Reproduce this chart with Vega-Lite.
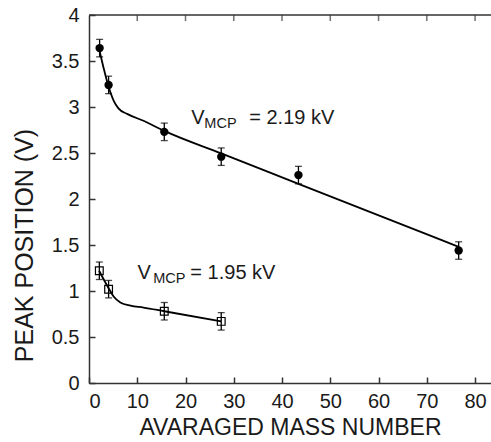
{
  "$schema": "https://vega.github.io/schema/vega-lite/v6.json",
  "autosize": "none",
  "padding": {"left": 89, "top": 15, "right": 0, "bottom": 59},
  "width": 402,
  "height": 368,
  "background": "white",
  "config": {
    "view": {"stroke": null},
    "font": "Liberation Sans",
    "axis": {
      "grid": false,
      "domainColor": "#333333",
      "domainWidth": 1.5,
      "tickColor": "#333333",
      "tickWidth": 1.5,
      "tickSize": -6,
      "labelFont": "Liberation Sans",
      "labelFontSize": 20,
      "labelColor": "#1a1a1a",
      "titleFont": "Liberation Sans",
      "titleFontWeight": "normal",
      "titleColor": "#1a1a1a"
    }
  },
  "datasets": {
    "pts": [
      {"series": "2.19", "mass": 2.2, "peak": 3.64, "lo": 3.545, "hi": 3.735},
      {"series": "2.19", "mass": 4.06, "peak": 3.24, "lo": 3.145, "hi": 3.335},
      {"series": "2.19", "mass": 15.6, "peak": 2.73, "lo": 2.635, "hi": 2.825},
      {"series": "2.19", "mass": 27.4, "peak": 2.46, "lo": 2.365, "hi": 2.555},
      {"series": "2.19", "mass": 43.4, "peak": 2.26, "lo": 2.165, "hi": 2.355},
      {"series": "2.19", "mass": 76.6, "peak": 1.44, "lo": 1.345, "hi": 1.535},
      {"series": "1.95", "mass": 2.14, "peak": 1.22, "lo": 1.125, "hi": 1.315},
      {"series": "1.95", "mass": 4.06, "peak": 1.02, "lo": 0.925, "hi": 1.115},
      {"series": "1.95", "mass": 15.6, "peak": 0.78, "lo": 0.685, "hi": 0.875},
      {"series": "1.95", "mass": 27.4, "peak": 0.67, "lo": 0.575, "hi": 0.765}
    ],
    "fit": [
      {"series": "2.19", "mass": 2.1, "peak": 3.63},
      {"series": "2.19", "mass": 3.0, "peak": 3.43},
      {"series": "2.19", "mass": 4.0, "peak": 3.23},
      {"series": "2.19", "mass": 5.1, "peak": 3.07},
      {"series": "2.19", "mass": 6.1, "peak": 2.985},
      {"series": "2.19", "mass": 7.9, "peak": 2.925},
      {"series": "2.19", "mass": 11.3, "peak": 2.85},
      {"series": "2.19", "mass": 15.6, "peak": 2.74},
      {"series": "2.19", "mass": 27.4, "peak": 2.495},
      {"series": "2.19", "mass": 43.4, "peak": 2.165},
      {"series": "2.19", "mass": 76.6, "peak": 1.48},
      {"series": "1.95", "mass": 2.1, "peak": 1.22},
      {"series": "1.95", "mass": 3.0, "peak": 1.13},
      {"series": "1.95", "mass": 4.06, "peak": 1.03},
      {"series": "1.95", "mass": 5.1, "peak": 0.94},
      {"series": "1.95", "mass": 6.5, "peak": 0.875},
      {"series": "1.95", "mass": 8.6, "peak": 0.84},
      {"series": "1.95", "mass": 11.3, "peak": 0.82},
      {"series": "1.95", "mass": 15.6, "peak": 0.78},
      {"series": "1.95", "mass": 27.4, "peak": 0.67}
    ],
    "labels": [
      {"part": "V", "mass": 21.2, "peak": 2.815, "size": "big"},
      {"part": "MCP", "mass": 23.9, "peak": 2.77, "size": "small"},
      {"part": "= 2.19 kV", "mass": 33.2, "peak": 2.815, "size": "big"},
      {"part": "V", "mass": 10.07, "peak": 1.13, "size": "big"},
      {"part": "MCP", "mass": 13.3, "peak": 1.085, "size": "small"},
      {"part": "= 1.95 kV", "mass": 21.0, "peak": 1.13, "size": "big"}
    ],
    "frame": [
      {"mass": 0, "peak": 4},
      {"mass": 83.3, "peak": 4}
    ],
    "topticks": [
      {"mass": 10, "peak": 4}, {"mass": 20, "peak": 4}, {"mass": 30, "peak": 4}, {"mass": 40, "peak": 4},
      {"mass": 50, "peak": 4}, {"mass": 60, "peak": 4}, {"mass": 70, "peak": 4}, {"mass": 80, "peak": 4}
    ]
  },
  "layer": [
    {
      "data": {"name": "fit"},
      "mark": {"type": "line", "interpolate": "monotone", "color": "black", "strokeWidth": 1.8},
      "encoding": {
        "x": {"field": "mass", "type": "quantitative",
              "scale": {"domain": [0, 83.3], "nice": false},
              "axis": {"orient": "bottom", "values": [0,10,20,30,40,50,60,70,80], "title": "AVARAGED MASS NUMBER", "titleFontSize": 23, "labelPadding": 14, "titlePadding": 5}},
        "y": {"field": "peak", "type": "quantitative",
              "scale": {"domain": [0, 4], "nice": false},
              "axis": {"values": [0,0.5,1,1.5,2,2.5,3,3.5,4], "format": "~g", "title": "PEAK POSITION (V)", "titleFontSize": 25, "titleY": 230, "labelPadding": 16, "titlePadding": 14}},
        "detail": {"field": "series"}
      }
    },
    {
      "data": {"name": "frame"},
      "mark": {"type": "line", "color": "#333333", "strokeWidth": 1.5},
      "encoding": {
        "x": {"field": "mass", "type": "quantitative"},
        "y": {"field": "peak", "type": "quantitative"}
      }
    },
    {
      "data": {"name": "topticks"},
      "mark": {"type": "tick", "orient": "vertical", "color": "#333333", "size": 6, "thickness": 1.5, "yOffset": 3},
      "encoding": {
        "x": {"field": "mass", "type": "quantitative"},
        "y": {"field": "peak", "type": "quantitative"}
      }
    },
    {
      "data": {"name": "pts"},
      "mark": {"type": "rule", "color": "black", "strokeWidth": 1.3},
      "encoding": {
        "x": {"field": "mass", "type": "quantitative"},
        "y": {"field": "lo", "type": "quantitative"},
        "y2": {"field": "hi"}
      }
    },
    {
      "data": {"name": "pts"},
      "mark": {"type": "tick", "orient": "horizontal", "color": "black", "size": 7, "thickness": 1.3},
      "encoding": {
        "x": {"field": "mass", "type": "quantitative"},
        "y": {"field": "lo", "type": "quantitative"}
      }
    },
    {
      "data": {"name": "pts"},
      "mark": {"type": "tick", "orient": "horizontal", "color": "black", "size": 7, "thickness": 1.3},
      "encoding": {
        "x": {"field": "mass", "type": "quantitative"},
        "y": {"field": "hi", "type": "quantitative"}
      }
    },
    {
      "data": {"name": "pts"},
      "transform": [{"filter": "datum.series == '2.19'"}],
      "mark": {"type": "point", "shape": "circle", "filled": true, "color": "black", "size": 70, "opacity": 1},
      "encoding": {
        "x": {"field": "mass", "type": "quantitative"},
        "y": {"field": "peak", "type": "quantitative"}
      }
    },
    {
      "data": {"name": "pts"},
      "transform": [{"filter": "datum.series == '1.95'"}],
      "mark": {"type": "point", "shape": "square", "filled": false, "color": "black", "strokeWidth": 1.2, "size": 60, "opacity": 1},
      "encoding": {
        "x": {"field": "mass", "type": "quantitative"},
        "y": {"field": "peak", "type": "quantitative"}
      }
    },
    {
      "data": {"name": "labels"},
      "transform": [{"filter": "datum.size == 'big'"}],
      "mark": {"type": "text", "align": "left", "baseline": "alphabetic", "fontSize": 20, "font": "Liberation Sans", "color": "#1a1a1a"},
      "encoding": {
        "x": {"field": "mass", "type": "quantitative"},
        "y": {"field": "peak", "type": "quantitative"},
        "text": {"field": "part"}
      }
    },
    {
      "data": {"name": "labels"},
      "transform": [{"filter": "datum.size == 'small'"}],
      "mark": {"type": "text", "align": "left", "baseline": "alphabetic", "fontSize": 14.5, "font": "Liberation Sans", "color": "#1a1a1a"},
      "encoding": {
        "x": {"field": "mass", "type": "quantitative"},
        "y": {"field": "peak", "type": "quantitative"},
        "text": {"field": "part"}
      }
    }
  ]
}
